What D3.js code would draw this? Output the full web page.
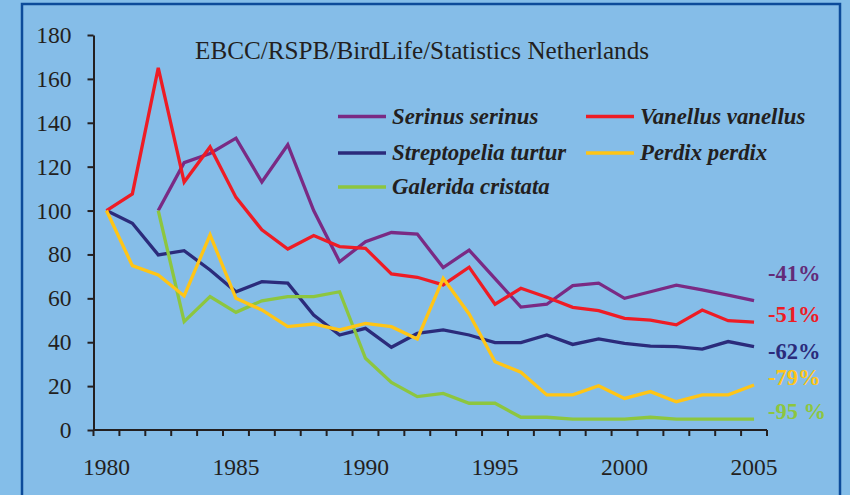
<!DOCTYPE html>
<html>
<head>
<meta charset="utf-8">
<script src="https://cdn.jsdelivr.net/npm/d3@7"></script>
<style>
  body { margin: 0; background: #84bee9; }
  svg { display: block; }
</style>
</head>
<body>
<svg id="chart"></svg>
<script>
const years = d3.range(1980, 2006);
const yTicks = [0, 20, 40, 60, 80, 100, 120, 140, 160, 180];
const xLabels = [1980, 1985, 1990, 1995, 2000, 2005];

// index values per year, null = no data
const serinus = [null, null, 100, 121.8, 126, 133, 113, 130, 100, 76.7, 85.8, 90, 89.3, 74, 82, 69, 56, 57.3, 65.8, 66.9, 60, 63, 66, 63.8, 61.5, 59];
const vanellus = [100, 107.6, 165, 113, 129, 106, 91.2, 82.5, 88.6, 83.6, 82.8, 71.1, 69.6, 66.1, 74.2, 57.3, 64.6, 60.5, 55.9, 54.4, 50.9, 50.1, 47.9, 54.7, 49.8, 49.2];
const turtur = [100, 94.2, 79.8, 81.7, 72.9, 63, 67.6, 66.9, 52.4, 43.3, 46.3, 37.7, 44, 45.6, 43.3, 39.8, 39.8, 43.3, 39, 41.5, 39.5, 38.2, 38, 36.9, 40.3, 38];
const perdix = [100, 74.9, 70.6, 61.1, 88.9, 60, 54.7, 47.1, 48.3, 45.6, 48.6, 47.1, 41.5, 69.1, 52.9, 31.1, 26.3, 16, 16, 20.2, 14.4, 17.5, 12.9, 16, 16, 20.5];
const galerida = [null, null, 100, 49.4, 60.8, 53.6, 58.9, 60.8, 60.8, 63, 32.7, 21.7, 15.2, 16.7, 12.2, 12.2, 5.8, 5.8, 5, 5, 5, 5.8, 5, 5, 5, 5];

const seriesNames = ["Serinus serinus", "Vanellus vanellus", "Streptopelia turtur", "Perdix perdix", "Galerida cristata"];
const changeLabels = ["-41%", "-51%", "-62%", "-79%", "-95 %"];
const title = "EBCC/RSPB/BirdLife/Statistics Netherlands";

const colors = {
    "Serinus serinus": "#7a2a84",
    "Vanellus vanellus": "#ee1c25",
    "Streptopelia turtur": "#2b2b7b",
    "Perdix perdix": "#ffc516",
    "Galerida cristata": "#8dc63f"
};
const labelColors = ["#632b78", "#ee1c25", "#2b2b7b", "#ffc516", "#8dc63f"];

const seriesData = {
    "Serinus serinus": serinus,
    "Vanellus vanellus": vanellus,
    "Streptopelia turtur": turtur,
    "Perdix perdix": perdix,
    "Galerida cristata": galerida
};
const drawOrder = ["Serinus serinus", "Streptopelia turtur", "Galerida cristata", "Vanellus vanellus", "Perdix perdix"];

const W = 850, H = 495;
const svg = d3.select("#chart").attr("width", W).attr("height", H);

svg.append("rect").attr("width", W).attr("height", H).attr("fill", "#84bee9");
svg.append("rect")
    .attr("x", 22).attr("y", 4).attr("width", 818).attr("height", 520)
    .attr("fill", "#85bde8").attr("stroke", "#0c4b9a").attr("stroke-width", 2.5);

const serif = "'Liberation Serif', 'Times New Roman', serif";
const ink = "#231f20";

const x = d3.scaleBand().domain(years).range([93.5, 767]).padding(0);
const y = d3.scaleLinear().domain([0, 180]).range([430, 35]);
const xc = yr => x(yr) + x.bandwidth() / 2;

// y axis
const yAxis = svg.append("g")
    .attr("transform", "translate(93.5,0)")
    .call(d3.axisLeft(y).tickValues(yTicks).tickSize(6).tickSizeOuter(0).tickPadding(16));
yAxis.select(".domain").attr("stroke", ink).attr("stroke-width", 2);
yAxis.selectAll(".tick line").attr("stroke", ink).attr("stroke-width", 2);
yAxis.selectAll("text").attr("font-family", serif).attr("font-size", 23.5).attr("fill", ink);

// x axis: ticks on band edges, labels every 5 years
const xg = svg.append("g").attr("transform", "translate(0,430)");
xg.append("line").attr("x1", 93.5).attr("x2", 767).attr("stroke", ink).attr("stroke-width", 2);
xg.selectAll(".xt")
    .data(years.concat([2006]))
    .enter().append("line")
    .attr("x1", d => d === 2006 ? 767 : x(d))
    .attr("x2", d => d === 2006 ? 767 : x(d))
    .attr("y1", 0).attr("y2", 6)
    .attr("stroke", ink).attr("stroke-width", 2);
xg.selectAll(".xl")
    .data(xLabels)
    .enter().append("text")
    .attr("x", d => xc(d))
    .attr("y", 45)
    .attr("text-anchor", "middle")
    .attr("font-family", serif).attr("font-size", 23.5).attr("fill", ink)
    .text(d => d);

// lines
const line = d3.line()
    .defined(d => d.v !== null)
    .x(d => xc(d.yr))
    .y(d => y(d.v));

drawOrder.forEach(name => {
    const pts = years.map((yr, i) => ({ yr: yr, v: seriesData[name][i] }));
    svg.append("path")
        .datum(pts)
        .attr("d", line)
        .attr("fill", "none")
        .attr("stroke", colors[name])
        .attr("stroke-width", 3.3)
        .attr("stroke-linejoin", "miter");
});

// title
svg.append("text")
    .attr("x", 195).attr("y", 59)
    .attr("font-family", serif).attr("font-size", 25.2).attr("fill", ink)
    .text(title);

// legend
const legendPos = [
    { lx: 338, ly: 116.5 }, { lx: 586, ly: 116.5 },
    { lx: 338, ly: 153 }, { lx: 586, ly: 153 },
    { lx: 338, ly: 187 }
];
seriesNames.forEach((name, i) => {
    const p = legendPos[i];
    svg.append("line")
        .attr("x1", p.lx).attr("x2", p.lx + 48)
        .attr("y1", p.ly).attr("y2", p.ly)
        .attr("stroke", colors[name]).attr("stroke-width", 3.3);
    svg.append("text")
        .attr("x", p.lx + 54).attr("y", p.ly + 7)
        .attr("font-family", serif).attr("font-size", 22.8)
        .attr("font-weight", "bold").attr("font-style", "italic")
        .attr("fill", ink)
        .text(name);
});

// change labels
const labelY = [281, 322, 359, 385, 419];
changeLabels.forEach((t, i) => {
    svg.append("text")
        .attr("x", 768).attr("y", labelY[i])
        .attr("font-family", serif).attr("font-size", 22.5).attr("font-weight", "bold")
        .attr("fill", labelColors[i])
        .text(t);
});
</script>
</body>
</html>
